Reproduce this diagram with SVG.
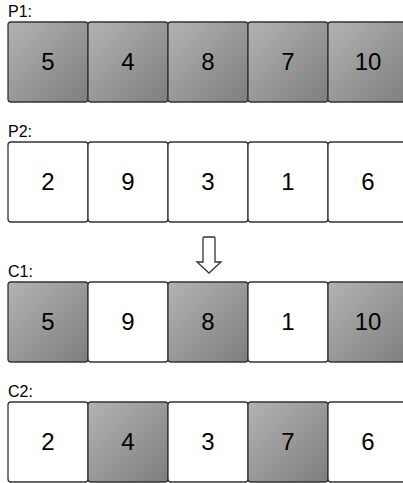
<svg xmlns="http://www.w3.org/2000/svg" width="403" height="483" viewBox="0 0 403 483">
<defs>
<linearGradient id="g" x1="0" y1="0" x2="1" y2="1">
<stop offset="0" stop-color="#b3b3b3"/>
<stop offset="1" stop-color="#7e7e7e"/>
</linearGradient>
<style>
.b{stroke:#333333;stroke-width:1.3;fill:#ffffff}
.d{fill:url(#g)}
.n{font-family:"Liberation Sans",Arial,sans-serif;font-size:24px;fill:#000;text-anchor:middle}
.l{font-family:"Liberation Sans",Arial,sans-serif;font-size:16px;fill:#000}
</style>
</defs>
<rect width="403" height="483" fill="#ffffff"/>
<g id="labels">
<text class="l" x="8" y="17">P1:</text>
<text class="l" x="8" y="137">P2:</text>
<text class="l" x="8" y="277">C1:</text>
<text class="l" x="8" y="397">C2:</text>
</g>
<g id="p1">
<rect class="b d" x="8" y="22" width="80" height="80" rx="3"/><text class="n" x="48" y="70">5</text>
<rect class="b d" x="88" y="22" width="80" height="80" rx="3"/><text class="n" x="128" y="70">4</text>
<rect class="b d" x="168" y="22" width="80" height="80" rx="3"/><text class="n" x="208" y="70">8</text>
<rect class="b d" x="248" y="22" width="80" height="80" rx="3"/><text class="n" x="288" y="70">7</text>
<rect class="b d" x="328" y="22" width="80" height="80" rx="3"/><text class="n" x="368" y="70">10</text>
</g>
<g id="p2">
<rect class="b" x="8" y="142" width="80" height="80" rx="3"/><text class="n" x="48" y="190">2</text>
<rect class="b" x="88" y="142" width="80" height="80" rx="3"/><text class="n" x="128" y="190">9</text>
<rect class="b" x="168" y="142" width="80" height="80" rx="3"/><text class="n" x="208" y="190">3</text>
<rect class="b" x="248" y="142" width="80" height="80" rx="3"/><text class="n" x="288" y="190">1</text>
<rect class="b" x="328" y="142" width="80" height="80" rx="3"/><text class="n" x="368" y="190">6</text>
</g>
<g id="connectors">
<path d="M203,238 Q203,237 204,237 L214,237 Q215,237 215,238 L215,262 L221,262 L209,273 L197,262 L203,262 Z" fill="#ffffff" stroke="#333333" stroke-width="1.3" stroke-linejoin="miter"/>
</g>
<g id="c1">
<rect class="b d" x="8" y="282" width="80" height="80" rx="3"/><text class="n" x="48" y="330">5</text>
<rect class="b" x="88" y="282" width="80" height="80" rx="3"/><text class="n" x="128" y="330">9</text>
<rect class="b d" x="168" y="282" width="80" height="80" rx="3"/><text class="n" x="208" y="330">8</text>
<rect class="b" x="248" y="282" width="80" height="80" rx="3"/><text class="n" x="288" y="330">1</text>
<rect class="b d" x="328" y="282" width="80" height="80" rx="3"/><text class="n" x="368" y="330">10</text>
</g>
<g id="c2">
<rect class="b" x="8" y="402" width="80" height="80" rx="3"/><text class="n" x="48" y="450">2</text>
<rect class="b d" x="88" y="402" width="80" height="80" rx="3"/><text class="n" x="128" y="450">4</text>
<rect class="b" x="168" y="402" width="80" height="80" rx="3"/><text class="n" x="208" y="450">3</text>
<rect class="b d" x="248" y="402" width="80" height="80" rx="3"/><text class="n" x="288" y="450">7</text>
<rect class="b" x="328" y="402" width="80" height="80" rx="3"/><text class="n" x="368" y="450">6</text>
</g>
</svg>
